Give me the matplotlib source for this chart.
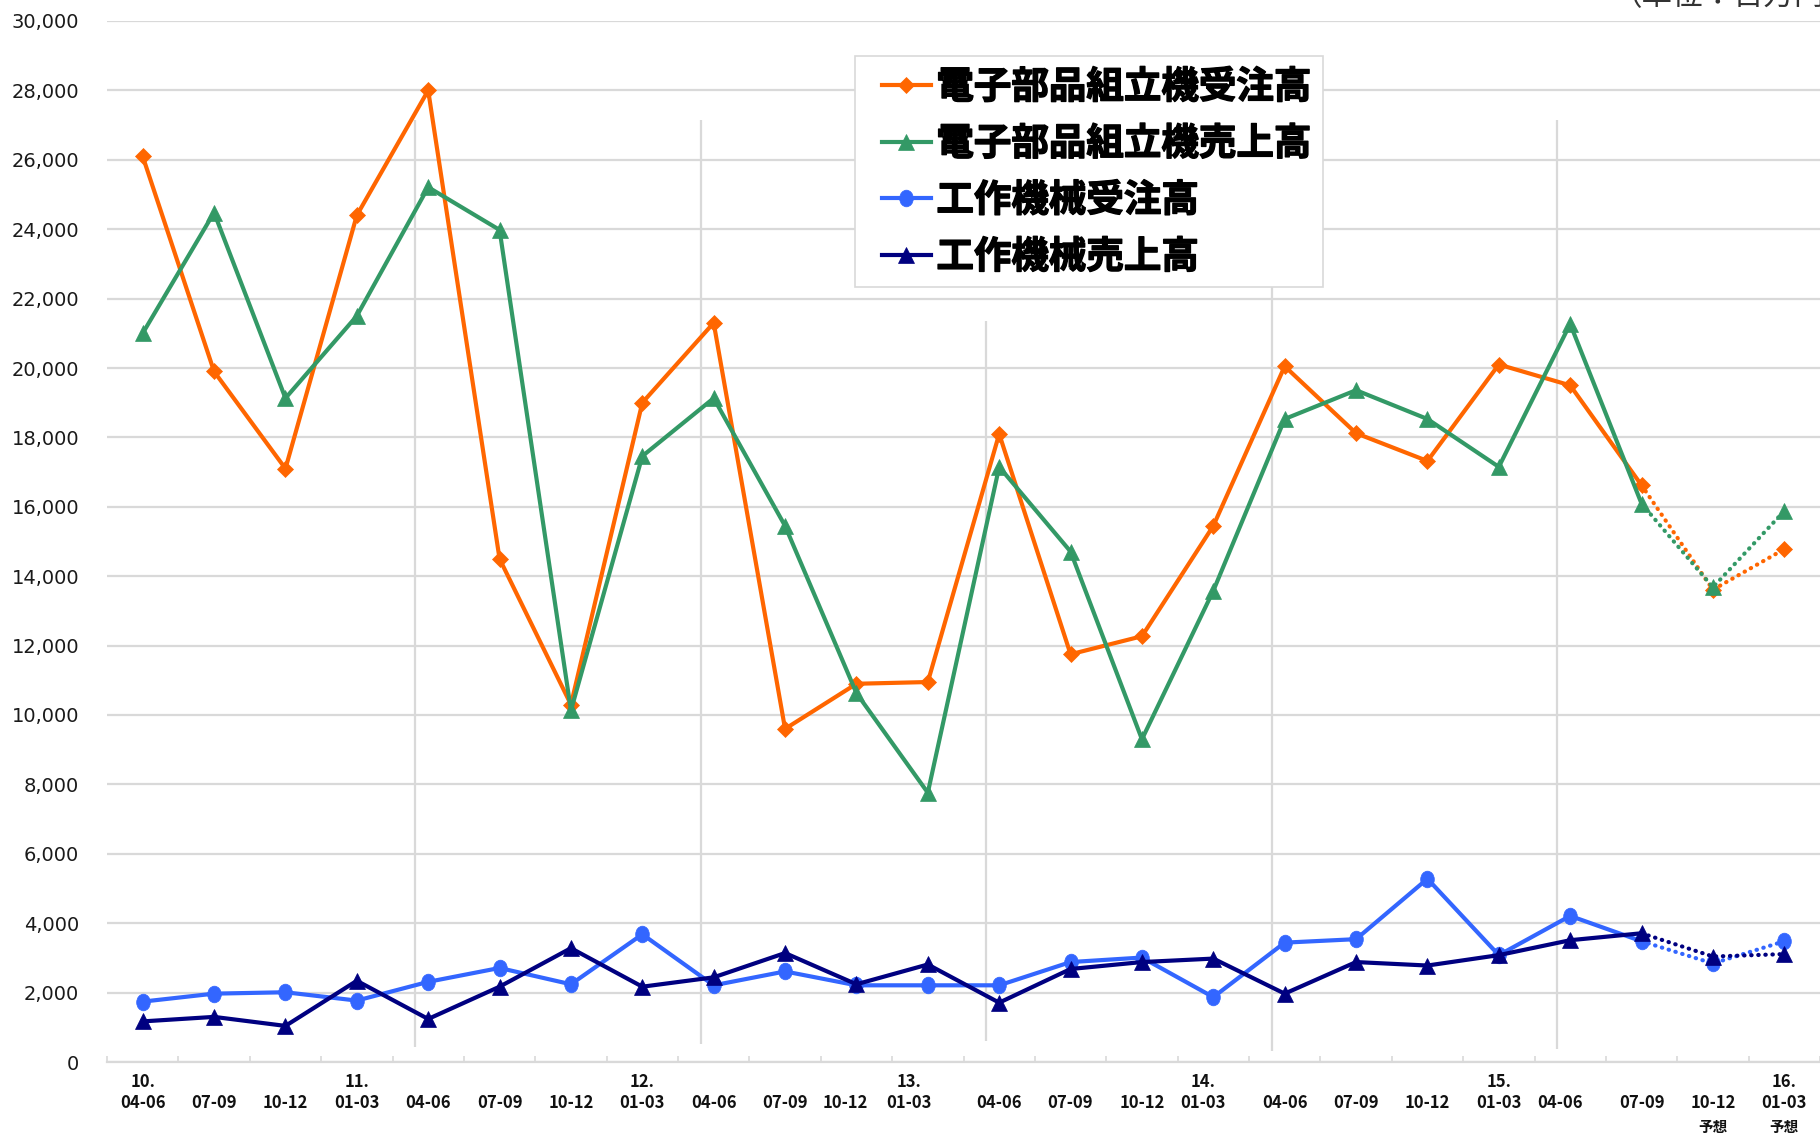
import matplotlib
matplotlib.use("Agg")
import matplotlib.pyplot as plt
import matplotlib.transforms as mtransforms
import matplotlib.patheffects as pe
from matplotlib.font_manager import FontProperties
from matplotlib.legend_handler import HandlerLine2D
from matplotlib.lines import Line2D
from matplotlib.path import Path
from matplotlib.ticker import FuncFormatter
import numpy as np

plt.rcParams["font.family"] = ["DejaVu Sans", "Noto Sans CJK JP"]

W, H = 1820, 1135

# --- data (百万円) ---
quarters = ["04-06", "07-09", "10-12", "01-03", "04-06", "07-09", "10-12", "01-03",
            "04-06", "07-09", "10-12", "01-03", "04-06", "07-09", "10-12", "01-03",
            "04-06", "07-09", "10-12", "01-03", "04-06", "07-09", "10-12", "01-03"]
years = ["10.", "", "", "11.", "", "", "", "12.", "", "", "", "13.",
         "", "", "", "14.", "", "", "", "15.", "", "", "", "16."]
notes = [""] * 22 + ["予想", "予想"]

smt_orders = [26100, 19900, 17100, 24400, 28000, 14500, 10300, 19000, 21300, 9600,
              10900, 10950, 18100, 11750, 12270, 15450, 20050, 18120, 17320, 20100,
              19500, 16620, 13610, 14780]
smt_sales = [21000, 24480, 19130, 21500, 25210, 23980, 10130, 17460, 19130, 15450,
             10630, 7760, 17150, 14710, 9300, 13580, 18530, 19360, 18530, 17150,
             21270, 16090, 13680, 15880]
mt_orders = [1740, 1970, 2010, 1770, 2310, 2710, 2240, 3680, 2210, 2610,
             2210, 2210, 2210, 2880, 3010, 1870, 3440, 3540, 5280, 3080,
             4210, 3480, 2840, 3480]
mt_sales = [1170, 1300, 1040, 2340, 1240, 2170, 3280, 2170, 2440, 3140,
            2240, 2810, 1710, 2680, 2880, 2980, 1970, 2880, 2780, 3080,
            3510, 3710, 3040, 3110]

series_names = ["電子部品組立機受注高", "電子部品組立機売上高", "工作機械受注高", "工作機械売上高"]
last_actual = 21  # index of last actual quarter, after that forecasts

# hand-drawn yearly separators on the original chart
sep_x = [3.82, 7.82, 11.82, 15.82, 19.82]
sep_top = [27150, 27150, 21350, 27000, 27150]
sep_bottom = [440, 520, 600, 320, 380]

# small horizontal nudges of some tick labels seen in the original
label_shift = [0.0] * 24
label_shift[10] = -0.15
label_shift[11] = -0.27
label_shift[15] = -0.15
label_shift[20] = -0.14

fig = plt.figure(figsize=(W / 100, H / 100), dpi=100)
ax = fig.add_axes([107 / W, 73 / H, (W - 107) / W, (1114 - 73) / H])

grid_c = "#d9d9d9"
x = np.arange(len(quarters))

# slightly tall oval like the original circle markers
oval = Path.unit_circle().transformed(mtransforms.Affine2D().scale(0.82, 1.0))

styles = [
    (smt_orders, "#ff6600", "D", 8.5),
    (smt_sales, "#339966", "^", 11),
    (mt_orders, "#3366ff", oval, 12),
    (mt_sales, "#000080", "^", 11),
]

handles = []
for (vals, col, mk, ms), name in zip(styles, series_names):
    vals = np.asarray(vals, dtype=float)
    h, = ax.plot(x[:last_actual + 1], vals[:last_actual + 1], color=col, lw=3,
                 marker=mk, ms=ms, mec=col, mew=0.5, zorder=3, label=name)
    ax.plot(x[last_actual:], vals[last_actual:], color=col, lw=3,
            linestyle=(0, (0.1, 1.6)), dash_capstyle="round", zorder=3)
    ax.plot(x[last_actual + 1:], vals[last_actual + 1:], linestyle="none",
            marker=mk, ms=ms, color=col, mec=col, mew=0.5, zorder=3)
    handles.append(h)

ax.vlines(sep_x, sep_bottom, sep_top, color=grid_c, lw=1.6, zorder=1)

ax.set_xlim(-0.5, 23.42)
ax.set_ylim(0, 30000)
ax.set_yticks(np.arange(0, 30001, 2000))
ax.yaxis.set_major_formatter(FuncFormatter(lambda v, p: f"{int(v):,}"))
ax.yaxis.grid(True, color=grid_c, lw=1.6)
ax.set_axisbelow(True)
ax.tick_params(axis="y", length=0, pad=20, labelsize=14, labelcolor="#1a1a1a")

ax.set_xticks(np.arange(-0.5, 24, 1))
ax.set_xticklabels([])
ax.tick_params(axis="x", direction="in", length=4, width=1.2, color=grid_c)

for s in ["left", "right", "top"]:
    ax.spines[s].set_visible(False)
ax.spines["bottom"].set_color(grid_c)
ax.spines["bottom"].set_linewidth(1.6)

# two / three line category labels
trans = mtransforms.blended_transform_factory(ax.transData, fig.transFigure)
lab_font = dict(family=["Noto Sans CJK JP", "DejaVu Sans"], weight="bold", fontsize=12,
                color="#111111", ha="center", va="center")
for i in range(len(quarters)):
    xi = i + label_shift[i]
    if years[i]:
        ax.text(xi, 1 - 1082 / H, years[i], transform=trans, **lab_font)
    ax.text(xi, 1 - 1103 / H, quarters[i], transform=trans, **lab_font)
    if notes[i]:
        ax.text(xi, 1 - 1127 / H, notes[i], transform=trans,
                **{**lab_font, "fontsize": 10.5})

leg = ax.legend(handles=handles, loc="upper left",
                bbox_to_anchor=(855 / W, 1 - 56 / H), bbox_transform=fig.transFigure,
                prop=FontProperties(family="Noto Sans CJK JP", weight="bold", size=27),
                frameon=True, fancybox=False, framealpha=1, edgecolor=grid_c,
                handlelength=1.72, handletextpad=0.15, labelspacing=0.47,
                borderpad=0.3, borderaxespad=0,
                handler_map={Line2D: HandlerLine2D(xpad=0.42)})
leg.get_frame().set_linewidth(1.2)
leg.set_zorder(5)
for t in leg.get_texts():
    t.set_path_effects([pe.withStroke(linewidth=1.0, foreground="black")])

fig.text(1612 / W, 1 - 5 / H, "（単位：百万円）", ha="left", va="baseline",
         fontsize=22, color="#333333", family=["Noto Sans CJK JP", "DejaVu Sans"])

fig.savefig("out.png", dpi=100)
